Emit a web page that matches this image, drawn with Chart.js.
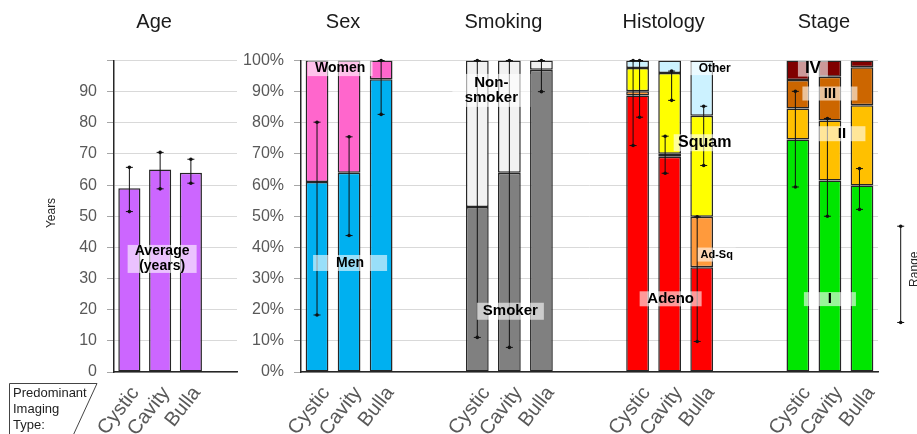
<!DOCTYPE html>
<html>
<head>
<meta charset="utf-8">
<script src="https://cdn.jsdelivr.net/npm/chart.js@4.4.0/dist/chart.umd.min.js"></script>
<style>
  html, body { margin: 0; padding: 0; background: #fff; overflow: hidden; width: 917px; height: 434px; }
  #wrapAge  { position: absolute; left: 0;     top: 0; width: 240px; height: 434px; }
  #wrapMain { position: absolute; left: 240px; top: 0; width: 677px; height: 434px; }
</style>
</head>
<body>
<div id="wrapAge"><canvas id="ageChart" width="240" height="434"></canvas></div>
<div id="wrapMain"><canvas id="mainChart" width="677" height="434"></canvas></div>
<script>
// ---- data ----
const imagingTypes = ['Cystic', 'Cavity', 'Bulla'];

// Age (years): mean with range
const ageAverage = [59, 65, 64];
const ageLow     = [51.5, 58.8, 60.6];
const ageHigh    = [65.7, 70.5, 68.3];

const panelTitles = ['Sex', 'Smoking', 'Histology', 'Stage'];

// Sex (%)
const men      = [61, 64, 94];
const women    = [39, 36, 6];
const menLow   = [18.3, 43.8, 82.7];
const menHigh  = [80.2, 75.5, 100];

// Smoking (%)
const smoker      = [53, 64, 97];
const nonSmoker   = [47, 36, 3];
const smokerLow   = [11.1, 7.9, 90];
const smokerHigh  = [100, 100, 100];

// Histology (%)
const adeno     = [88.8, 69.1, 33.6];
const adSq      = [1.3, 1.0, 16.2];
const squam     = [7.5, 25.9, 32.5];
const other     = [2.4, 4.0, 17.7];
const adenoLow  = [72.7, 63.8, 9.8];
const adenoHigh = [100, 75.7, 49.8];
const squamLow  = [81.8, 87.2, 66.3];
const squamHigh = [100, 96.6, 85.3];

// Stage (%)
const stageI     = [74.6, 61.5, 59.9];
const stageII    = [10.0, 19.2, 25.7];
const stageIII   = [9.1, 14.1, 12.2];
const stageIV    = [6.3, 5.2, 2.2];
const stageILow  = [59.4, 50.0, 52.2];
const stageIHigh = [90.1, 81.4, 65.3];

// axis ticks
const yearTicks = [0, 10, 20, 30, 40, 50, 60, 70, 80, 90];
const percentTicks = [0, 10, 20, 30, 40, 50, 60, 70, 80, 90, 100];

// ---- layout helpers ----
const FONT = "'Liberation Sans', Arial, sans-serif";
Chart.defaults.font.family = FONT;
const GAP = 2; // empty category slots between panels
const groupStart = g => g * (imagingTypes.length + GAP);
const mainLabels = [];
panelTitles.forEach((t, g) => {
  mainLabels.push(...imagingTypes);
  if (g < panelTitles.length - 1) for (let i = 0; i < GAP; i++) mainLabels.push('');
});
function place(values, g) {
  const arr = new Array(mainLabels.length).fill(null);
  values.forEach((v, i) => { arr[groupStart(g) + i] = v; });
  return arr;
}

const BORDER = '#262626';
function barSet(label, values, g, color) {
  return {
    label, data: place(values, g), backgroundColor: color,
    borderColor: BORDER, borderWidth: 1.5, borderSkipped: false,
    barPercentage: 0.71, categoryPercentage: 1, stack: 'all'
  };
}

// ---- drawing helpers ----
function drawErrorBar(ctx, x, yLow, yHigh) {
  ctx.save();
  ctx.strokeStyle = '#111';
  ctx.fillStyle = '#111';
  ctx.lineWidth = 1;
  ctx.beginPath();
  ctx.moveTo(x, yLow); ctx.lineTo(x, yHigh);
  ctx.moveTo(x - 3.5, yLow); ctx.lineTo(x + 3.5, yLow);
  ctx.moveTo(x - 3.5, yHigh); ctx.lineTo(x + 3.5, yHigh);
  ctx.stroke();
  [yLow, yHigh].forEach(y => { ctx.beginPath(); ctx.arc(x, y, 1.8, 0, Math.PI * 2); ctx.fill(); });
  ctx.restore();
}

function drawTag(ctx, cx, cy, lines, size, w, h) {
  ctx.save();
  ctx.fillStyle = 'rgba(255,255,255,0.6)';
  ctx.fillRect(cx - w / 2, cy - h / 2, w, h);
  ctx.fillStyle = '#000';
  ctx.font = `bold ${size}px ${FONT}`;
  ctx.textAlign = 'center';
  ctx.textBaseline = 'middle';
  const lh = size * 1.05;
  lines.forEach((t, i) => {
    ctx.fillText(t, cx, cy + (i - (lines.length - 1) / 2) * lh);
  });
  ctx.restore();
}

function drawTitle(ctx, text, x) {
  ctx.save();
  ctx.fillStyle = '#1a1a1a';
  ctx.font = `20px ${FONT}`;
  ctx.textAlign = 'center';
  ctx.textBaseline = 'middle';
  ctx.fillText(text, x, 22);
  ctx.restore();
}

function xAxis(shift) {
  return {
    offset: true,
    grid: { display: false, drawTicks: false },
    border: { display: true, color: BORDER, width: 1.5 },
    ticks: { autoSkip: false, maxRotation: 52, minRotation: 52, padding: 10, labelOffset: shift,
             color: '#595959', font: { size: 20 } },
    afterFit(s) { s.height = 62; s.paddingLeft = 0; s.paddingRight = 0; }
  };
}
function yAxis(width, tickValues, fmt) {
  return {
    stacked: true, min: 0, max: 100,
    afterBuildTicks(s) { s.ticks = percentTicks.map(v => ({ value: v })); },
    ticks: { color: '#595959', font: { size: 16 }, padding: 10,
             callback: v => tickValues.includes(v) ? fmt(v) : '' },
    grid: { color: '#d9d9d9', tickColor: '#a6a6a6', tickLength: 7, lineWidth: 1 },
    border: { display: true, color: BORDER, width: 1.5 },
    afterFit(s) { s.width = width; }
  };
}

// ---- Age chart ----
const agePlugin = {
  id: 'ageDecor',
  afterDatasetsDraw(chart) {
    const { ctx, scales: { x, y } } = chart;
    ageAverage.forEach((v, i) => drawErrorBar(ctx, x.getPixelForValue(i), y.getPixelForValue(ageLow[i]), y.getPixelForValue(ageHigh[i])));
    drawTag(ctx, x.getPixelForValue(1) + 2, y.getPixelForValue(36.3), ['Average', '(years)'], 14, 69, 28);
  },
  afterDraw(chart) {
    const { ctx, scales: { x } } = chart;
    drawTitle(ctx, 'Age', x.getPixelForValue(1) - 6);
    // axis title
    ctx.save();
    ctx.translate(52, 213);
    ctx.rotate(-Math.PI / 2);
    ctx.fillStyle = '#262626';
    ctx.font = `12px ${FONT}`;
    ctx.textAlign = 'center';
    ctx.textBaseline = 'middle';
    ctx.fillText('Years', 0, 0);
    ctx.restore();
    // "Predominant Imaging Type:" caption box
    ctx.save();
    ctx.strokeStyle = '#444';
    ctx.lineWidth = 1;
    ctx.beginPath();
    ctx.moveTo(9.5, 440); ctx.lineTo(9.5, 383.5); ctx.lineTo(97, 383.5); ctx.lineTo(71, 440);
    ctx.stroke();
    ctx.fillStyle = '#222';
    ctx.font = `13px ${FONT}`;
    ctx.textAlign = 'left';
    ctx.textBaseline = 'alphabetic';
    ctx.fillText('Predominant', 13, 397);
    ctx.fillText('Imaging', 13, 413);
    ctx.fillText('Type:', 13, 429);
    ctx.restore();
  }
};

new Chart(document.getElementById('ageChart'), {
  type: 'bar',
  data: {
    labels: [...imagingTypes, ''],
    datasets: [{
      label: 'Age', data: ageAverage, backgroundColor: '#cc66ff',
      borderColor: BORDER, borderWidth: 1.5, borderSkipped: false,
      barPercentage: 0.72, categoryPercentage: 1
    }]
  },
  options: {
    responsive: false, animation: false,
    layout: { padding: { top: 60.5, right: 3, left: 0, bottom: 0 } },
    plugins: { legend: { display: false }, tooltip: { enabled: false } },
    scales: { x: xAxis(6), y: Object.assign(yAxis(114, yearTicks, v => String(v)), { stacked: false }) }
  },
  plugins: [agePlugin]
});

// ---- Sex / Smoking / Histology / Stage chart ----
const errorSpecs = [
  { g: 0, low: menLow,    high: menHigh,    dx: 0 },
  { g: 1, low: smokerLow, high: smokerHigh, dx: 0 },
  { g: 2, low: adenoLow,  high: adenoHigh,  dx: -4.5 },
  { g: 2, low: squamLow,  high: squamHigh,  dx: 2 },
  { g: 3, low: stageILow, high: stageIHigh, dx: -2.5 }
];
// tag: category slot, horizontal nudge, value position, box size
const tags = [
  { text: ['Women'],        slot: 1,  dx: -9, v: 97.4, size: 14, w: 65, h: 15 },
  { text: ['Men'],          slot: 1,  dx: 1,  v: 35,   size: 14, w: 74, h: 16 },
  { text: ['Non-', 'smoker'], slot: 6, dx: -18, v: 90.4, size: 15, w: 78, h: 33 },
  { text: ['Smoker'],       slot: 6,  dx: 1,  v: 19.5, size: 15, w: 67, h: 17 },
  { text: ['Other'],        slot: 12, dx: 13, v: 97.4, size: 12, w: 52, h: 13 },
  { text: ['Squam'],        slot: 12, dx: 3,  v: 73.6, size: 16, w: 62, h: 17 },
  { text: ['Ad-Sq'],        slot: 12, dx: 15, v: 37.7, size: 11, w: 38, h: 14 },
  { text: ['Adeno'],        slot: 11, dx: 1,  v: 23.5, size: 15, w: 62, h: 15 },
  { text: ['IV'],           slot: 16, dx: -17, v: 97.4, size: 17, w: 30, h: 16 },
  { text: ['III'],          slot: 16, dx: 0,  v: 89.4, size: 15, w: 55, h: 14 },
  { text: ['II'],           slot: 16, dx: 12, v: 76.5, size: 15, w: 47, h: 15 },
  { text: ['I'],            slot: 16, dx: 0,  v: 23.4, size: 15, w: 52, h: 14 }
];

const mainPlugin = {
  id: 'mainDecor',
  afterDatasetsDraw(chart) {
    const { ctx, scales: { x, y } } = chart;
    errorSpecs.forEach(s => s.low.forEach((lo, i) => {
      const px = x.getPixelForValue(groupStart(s.g) + i) + s.dx;
      drawErrorBar(ctx, px, y.getPixelForValue(lo), y.getPixelForValue(s.high[i]));
    }));
    tags.forEach(t => drawTag(ctx, x.getPixelForValue(t.slot) + t.dx, y.getPixelForValue(t.v), t.text, t.size, t.w, t.h));
  },
  afterDraw(chart) {
    const { ctx, chartArea, scales: { x, y } } = chart;
    panelTitles.forEach((t, g) => drawTitle(ctx, t, x.getPixelForValue(groupStart(g) + 1) - 6));
    // range key
    const kx = chartArea.right + 22.7;
    drawErrorBar(ctx, kx, y.getPixelForValue(15.9), y.getPixelForValue(46.8));
    ctx.save();
    ctx.translate(kx + 14, y.getPixelForValue(33));
    ctx.rotate(-Math.PI / 2);
    ctx.fillStyle = '#262626';
    ctx.font = `12px ${FONT}`;
    ctx.textAlign = 'center';
    ctx.textBaseline = 'middle';
    ctx.fillText('Range', 0, 0);
    ctx.restore();
  }
};

new Chart(document.getElementById('mainChart'), {
  type: 'bar',
  data: {
    labels: mainLabels,
    datasets: [
      barSet('Men', men, 0, '#00b0f0'),
      barSet('Women', women, 0, '#ff66cc'),
      barSet('Smoker', smoker, 1, '#808080'),
      barSet('Non-smoker', nonSmoker, 1, '#f2f2f2'),
      barSet('Adeno', adeno, 2, '#ff0000'),
      barSet('Ad-Sq', adSq, 2, '#ff9a3c'),
      barSet('Squam', squam, 2, '#ffff00'),
      barSet('Other', other, 2, '#ccf2ff'),
      barSet('I', stageI, 3, '#00e600'),
      barSet('II', stageII, 3, '#ffc000'),
      barSet('III', stageIII, 3, '#cc6600'),
      barSet('IV', stageIV, 3, '#800000')
    ]
  },
  options: {
    responsive: false, animation: false,
    layout: { padding: { top: 60.5, right: 39, left: 0, bottom: 0 } },
    plugins: { legend: { display: false }, tooltip: { enabled: false } },
    scales: { x: Object.assign(xAxis(9), { stacked: true }), y: yAxis(61, percentTicks, v => v + '%') }
  },
  plugins: [mainPlugin]
});
</script>
</body>
</html>
